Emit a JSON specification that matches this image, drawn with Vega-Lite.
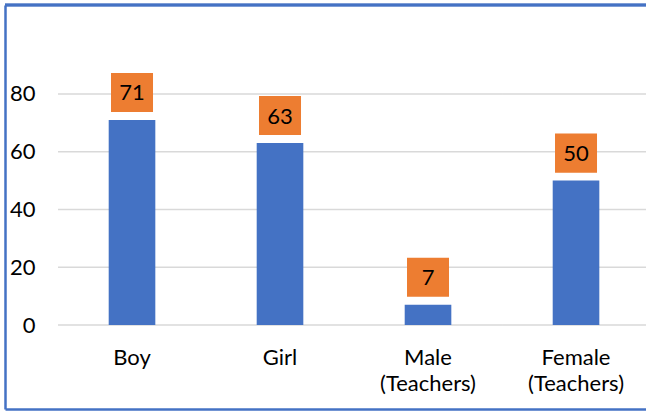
{
  "$schema": "https://vega.github.io/schema/vega-lite/v6.json",
  "width": 641,
  "height": 404,
  "autosize": {"type": "none"},
  "padding": {"left": 5, "top": 5, "right": 0, "bottom": 3},
  "background": "white",
  "config": {
    "view": {"stroke": null},
    "font": "Lato"
  },
  "data": {
    "values": [
      {"category": "Boy", "value": 71},
      {"category": "Girl", "value": 63},
      {"category": "Male (Teachers)", "value": 7},
      {"category": "Female (Teachers)", "value": 50}
    ]
  },
  "layer": [
    {
      "data": {
        "values": [
          {"category": "Boy", "value": 0}, {"category": "Girl", "value": 0}, {"category": "Male (Teachers)", "value": 0}, {"category": "Female (Teachers)", "value": 0},
          {"category": "Boy", "value": 20}, {"category": "Girl", "value": 20}, {"category": "Male (Teachers)", "value": 20}, {"category": "Female (Teachers)", "value": 20},
          {"category": "Boy", "value": 40}, {"category": "Girl", "value": 40}, {"category": "Male (Teachers)", "value": 40}, {"category": "Female (Teachers)", "value": 40},
          {"category": "Boy", "value": 60}, {"category": "Girl", "value": 60}, {"category": "Male (Teachers)", "value": 60}, {"category": "Female (Teachers)", "value": 60},
          {"category": "Boy", "value": 80}, {"category": "Girl", "value": 80}, {"category": "Male (Teachers)", "value": 80}, {"category": "Female (Teachers)", "value": 80}
        ]
      },
      "mark": {"type": "tick", "orient": "horizontal", "size": 148, "thickness": 1.4, "color": "#d9d9d9", "opacity": 1},
      "encoding": {
        "x": {
          "field": "category",
          "type": "nominal",
          "sort": null,
          "scale": {
            "domain": ["Boy", "Girl", "Male (Teachers)", "Female (Teachers)"],
            "paddingInner": 0.685,
            "paddingOuter": 0.508,
            "align": 0.6896
          },
          "axis": {
            "title": null,
            "domain": true,
            "domainColor": "#4472C4",
            "domainWidth": 2.5,
            "ticks": false,
            "tickSize": 0,
            "grid": false,
            "labelAngle": 0,
            "labelPadding": -62,
            "labelFontSize": 22,
            "labelColor": "#000000",
            "labelLineHeight": 26,
            "labelBaseline": "top",
            "labelExpr": "split(datum.label, ' ')"
          }
        },
        "y": {
          "field": "value",
          "type": "quantitative",
          "scale": {"domain": [-29.09, 110.82], "nice": false, "zero": false},
          "axis": {
            "title": null,
            "values": [0, 20, 40, 60, 80],
            "grid": false,
            "domain": true,
            "domainColor": "#4472C4",
            "domainWidth": 2.5,
            "ticks": false,
            "tickSize": 0,
            "labelPadding": -30,
            "labelFontSize": 22,
            "labelColor": "#000000"
          }
        }
      }
    },
    {
      "mark": {"type": "rule", "color": "#4472C4", "strokeWidth": 2.5},
      "encoding": {
        "y": {"datum": 110.82, "type": "quantitative"}
      }
    },
    {
      "mark": {"type": "bar", "color": "#4472C4"},
      "encoding": {
        "x": {"field": "category", "type": "nominal", "sort": null},
        "y": {"field": "value", "type": "quantitative"}
      }
    },
    {
      "mark": {
        "type": "point",
        "shape": "M-1,-0.93L1,-0.93L1,0.93L-1,0.93Z",
        "size": 1764,
        "filled": true,
        "opacity": 1,
        "color": "#ED7D31",
        "strokeWidth": 0,
        "yOffset": -27.5
      },
      "encoding": {
        "x": {"field": "category", "type": "nominal", "sort": null},
        "y": {"field": "value", "type": "quantitative"}
      }
    },
    {
      "mark": {
        "type": "text",
        "fontSize": 22,
        "color": "#000000",
        "baseline": "middle",
        "align": "center",
        "yOffset": -26.5
      },
      "encoding": {
        "x": {"field": "category", "type": "nominal", "sort": null},
        "y": {"field": "value", "type": "quantitative"},
        "text": {"field": "value", "type": "quantitative"}
      }
    }
  ]
}
